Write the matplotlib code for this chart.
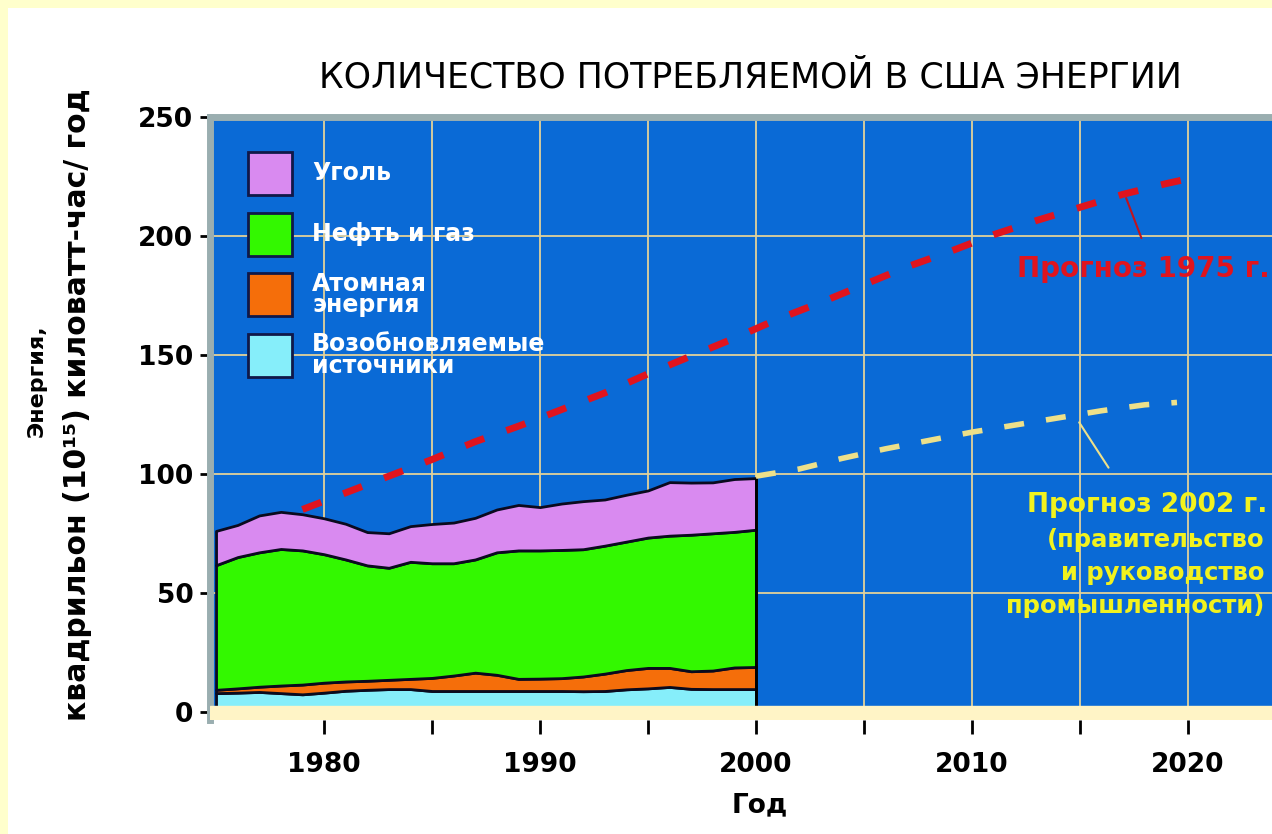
import numpy as np
import matplotlib.pyplot as plt
from matplotlib.patches import Rectangle

plt.rcParams['font.family'] = ['DejaVu Sans']

# history, quadrillion units per year
years = np.arange(1975, 2001)
renewables = [7.8, 8.0, 8.3, 7.8, 7.3, 8.0, 8.8, 9.2, 9.5, 9.5, 8.7, 8.7, 8.7,
              8.7, 8.7, 8.7, 8.7, 8.6, 8.7, 9.4, 9.8, 10.4, 9.6, 9.5, 9.5, 9.5]
nuclear = [1.4, 1.8, 2.2, 3.2, 4.1, 4.2, 3.9, 3.8, 3.9, 4.3, 5.5, 6.5, 7.7,
           6.8, 5.1, 5.2, 5.4, 6.2, 7.3, 8.1, 8.6, 8.0, 7.4, 7.8, 9.1, 9.3]
oil_gas = [52.4, 55.2, 56.5, 57.4, 56.4, 54.0, 51.3, 48.5, 47.1, 49.2, 48.2, 47.2, 47.6,
           51.5, 54.0, 53.9, 53.9, 53.5, 53.8, 54.0, 54.8, 55.6, 57.4, 57.7, 57.0, 57.7]
coal = [14.4, 13.5, 15.5, 15.6, 15.2, 15.1, 15.0, 14.0, 14.5, 15.0, 16.5, 17.1, 17.5,
        18.0, 19.1, 18.2, 19.5, 20.2, 19.4, 19.7, 19.8, 22.5, 21.9, 21.4, 22.2, 21.7]

# forecasts
f1975_years = [1979, 1981, 1983, 1985, 1987, 1989, 1991, 1993, 1995, 1997, 1999,
               2001, 2003, 2005, 2007, 2009, 2011, 2013, 2015, 2017, 2019, 2020]
f1975 = [85, 92, 99, 106, 113.5, 120, 127, 134, 142, 149.5, 157,
         165, 172, 179.5, 187, 193.5, 200.5, 206.5, 212, 217.5, 222, 224]
f2002_years = [2000, 2002, 2004, 2006, 2008, 2010, 2012, 2014, 2016, 2018, 2019.5]
f2002 = [99, 102, 106.5, 110.5, 114, 117.5, 120.5, 123.5, 126.5, 129, 130]

labels = ['Уголь', 'Нефть и газ', 'Атомная\nэнергия', 'Возобновляемые\nисточники']
colors = ['#D98AF0', '#33F800', '#F56E0A', '#86EEFA']

fig = plt.figure(figsize=(12.72, 8.34), dpi=100, facecolor='#FFFFCC')
fig.add_artist(Rectangle((8 / 1272, 0), 1, 1 - 8 / 834, transform=fig.transFigure,
                         facecolor='white', edgecolor='none', zorder=-10))

ax = fig.add_axes([210 / 1272, 1 - 720 / 834, 1062 / 1272, 603 / 834])
ax.set_facecolor('#0A6AD6')
ax.set_xlim(1974.72, 2023.9)
ax.set_ylim(-3.5, 250)

ax.set_axisbelow(True)
ax.grid(True, which='both', color='#E3D29A', linewidth=1.3)

ax.stackplot(years, renewables, nuclear, oil_gas, coal,
             colors=colors[::-1], edgecolor='#0A0A1E', linewidth=2, zorder=2)
total = np.array(renewables) + nuclear + oil_gas + coal
ax.vlines(years[-1], 0, total[-1], color='black', linewidth=2, zorder=3)
ax.axhspan(-3.5, 2.5, color='#FFF4C6', zorder=3)

ax.plot(f1975_years, f1975, color='#E0141E', linewidth=5, dashes=(2.9, 3.4), zorder=4)
ax.plot(f2002_years, f2002, color='#EDE08A', linewidth=4, dashes=(3.6, 4.0), zorder=4)

# leader lines and notes
ax.annotate('', xy=(2017.1, 217), xytext=(2017.9, 198),
            arrowprops=dict(arrowstyle='-', color='#C0141E', lw=1.5))
ax.text(2012.1, 186, 'Прогноз 1975 г.', color='#E0141E', fontsize=20,
        fontweight='bold', ha='left', va='center')
ax.annotate('', xy=(2014.9, 122.6), xytext=(2016.4, 101.6),
            arrowprops=dict(arrowstyle='-', color='#EDE08A', lw=1.5))
ax.text(2023.7, 87, 'Прогноз 2002 г.', color='#F2F21E', fontsize=19,
        fontweight='bold', ha='right', va='center')
for txt, yv in zip(['(правительство', 'и руководство', 'промышленности)'], [72.2, 58.3, 44.4]):
    ax.text(2023.56, yv, txt, color='#F2F21E', fontsize=17.5, fontweight='bold',
            ha='right', va='center')

# legend
for i, (lab, col) in enumerate(zip(labels, colors)):
    top = 152 + 60.5 * i
    ax.add_patch(Rectangle(((248 - 210) / 1062, (720 - top - 43) / 603), 44 / 1062, 43 / 603,
                           transform=ax.transAxes, facecolor=col, edgecolor='#101848',
                           linewidth=2, zorder=5))
    ax.text((312 - 210) / 1062, (720 - top - 21.5) / 603, lab, transform=ax.transAxes,
            color='white', fontsize=17, fontweight='bold', ha='left', va='center',
            linespacing=0.85, zorder=5)

ax.set_xticks(range(1980, 2021, 10))
ax.set_xticks(range(1985, 2020, 10), minor=True)
ax.set_yticks(range(0, 251, 50))
ax.tick_params(axis='x', which='both', length=10, width=2, pad=13, labelsize=19)
ax.tick_params(axis='y', length=7, width=2, pad=5, labelsize=19)
for lab in ax.get_xticklabels() + ax.get_yticklabels():
    lab.set_fontweight('bold')

for side in ['right', 'bottom']:
    ax.spines[side].set_visible(False)
for side in ['left', 'top']:
    ax.spines[side].set_color('#9AAEB0')
    ax.spines[side].set_linewidth(5)

ax.text((760 - 210) / 1062, (720 - 805) / 603, 'Год', transform=ax.transAxes,
        fontsize=19, fontweight='bold', ha='center', va='center')
fig.text(37 / 1272, 1 - 381 / 834, 'Энергия,', rotation=90, fontsize=16,
         fontweight='bold', ha='center', va='center')
fig.text(78 / 1272, 1 - 405 / 834, 'квадрильон (10¹⁵) киловатт-час/ год', rotation=90,
         fontsize=21.5, fontweight='bold', ha='center', va='center')
fig.text(750 / 1272, 1 - 78 / 834, 'КОЛИЧЕСТВО ПОТРЕБЛЯЕМОЙ В США ЭНЕРГИИ',
         fontsize=25, ha='center', va='center')

fig.savefig('out.png', dpi=100, facecolor=fig.get_facecolor())
